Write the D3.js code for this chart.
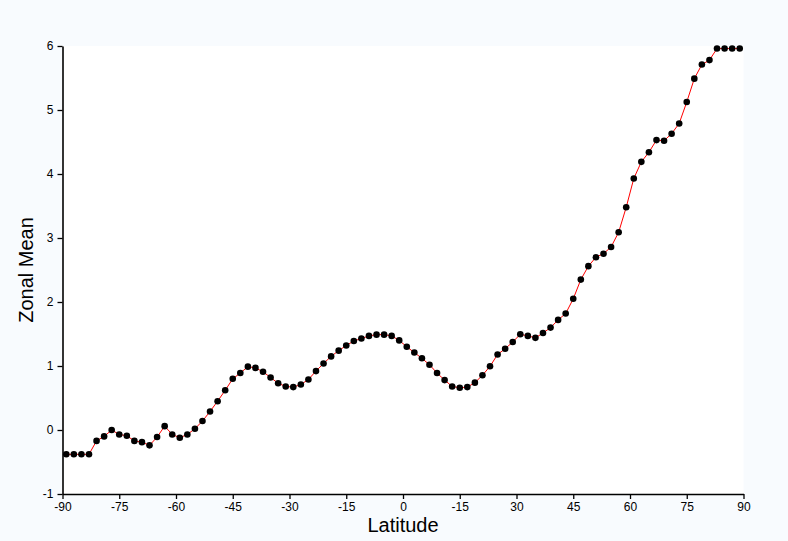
<!DOCTYPE html>
<html>
<head>
<meta charset="utf-8">
<script src="https://cdn.jsdelivr.net/npm/d3@7"></script>
<style>
  html, body { margin: 0; padding: 0; background: #F8FBFE; }
  svg { display: block; }
  text { font-family: Arial, "Liberation Sans", sans-serif; }
</style>
</head>
<body>
<svg id="chart" width="788" height="541"></svg>
<script>
const latitudes = [
  -89,-87,-85,-83,-81,-79,-77,-75,-73,-71,-69,-67,-65,-63,-61,-59,-57,-55,-53,-51,
  -49,-47,-45,-43,-41,-39,-37,-35,-33,-31,-29,-27,-25,-23,-21,-19,-17,-15,-13,-11,
  -9,-7,-5,-3,-1,1,3,5,7,9,11,13,15,17,19,21,23,25,27,29,
  31,33,35,37,39,41,43,45,47,49,51,53,55,57,59,61,63,65,67,69,
  71,73,75,77,79,81,83,85,87,89
];
const zonalMean = [
  -0.38,-0.38,-0.38,-0.38,-0.17,-0.10,0.00,-0.07,-0.09,-0.17,-0.19,-0.24,-0.11,0.06,-0.07,-0.12,-0.07,0.02,0.14,0.29,
  0.45,0.62,0.80,0.89,0.99,0.97,0.91,0.82,0.73,0.68,0.67,0.71,0.79,0.92,1.04,1.15,1.24,1.32,1.39,1.43,
  1.47,1.49,1.49,1.47,1.40,1.30,1.21,1.12,1.02,0.89,0.78,0.68,0.66,0.67,0.74,0.855,0.995,1.18,1.27,1.375,
  1.495,1.47,1.44,1.515,1.60,1.72,1.82,2.05,2.35,2.56,2.70,2.755,2.86,3.09,3.48,3.93,4.19,4.34,4.53,4.52,
  4.63,4.79,5.125,5.49,5.71,5.78,5.96,5.96,5.96,5.96
];
const xTickValues = [-90,-75,-60,-45,-30,-15,0,15,30,45,60,75,90];
const xTickLabels = ["-90","-75","-60","-45","-30","-15","0","-15","30","45","60","75","90"];
const yTickValues = [-1,0,1,2,3,4,5,6];
const yTickLabels = ["-1","0","1","2","3","4","5","6"];
const xTitle = "Latitude";
const yTitle = "Zonal Mean";

const data = latitudes.map((d, i) => ({lat: d, v: zonalMean[i]}));

const svg = d3.select("#chart");
const pLeft = 62.5, pRight = 743.5, pTop = 46, pBottom = 494;

const x = d3.scaleLinear().domain([-90, 90]).range([pLeft, pRight]);
const y = d3.scaleLinear().domain([-1, 6]).range([pBottom, pTop]);

svg.append("rect")
  .attr("x", pLeft).attr("y", pTop)
  .attr("width", pRight - pLeft).attr("height", pBottom - pTop)
  .attr("fill", "#ffffff");

const xAxis = svg.append("g")
  .attr("transform", `translate(0,${pBottom})`)
  .call(d3.axisBottom(x).tickValues(xTickValues)
    .tickFormat((d, i) => xTickLabels[i]).tickSize(5).tickSizeOuter(0).tickPadding(3));
const yAxis = svg.append("g")
  .attr("transform", `translate(${pLeft},0)`)
  .call(d3.axisLeft(y).tickValues(yTickValues).tickFormat((d, i) => yTickLabels[i])
    .tickSize(5).tickSizeOuter(0).tickPadding(4));

[xAxis, yAxis].forEach(g => {
  g.select(".domain").attr("stroke", "#000").attr("stroke-width", 1.6);
  g.selectAll(".tick line").attr("stroke", "#000").attr("stroke-width", 1.3);
  g.selectAll(".tick text").attr("fill", "#000").style("font-size", "12px")
    .style("font-family", "Arial, 'Liberation Sans', sans-serif");
});

const line = d3.line().x(d => x(d.lat)).y(d => y(d.v));
svg.append("path").datum(data)
  .attr("d", line).attr("fill", "none")
  .attr("stroke", "#ff0000").attr("stroke-width", 1);

svg.append("g").selectAll("circle").data(data).join("circle")
  .attr("cx", d => x(d.lat)).attr("cy", d => y(d.v))
  .attr("r", 3.3).attr("fill", "#000");

svg.append("text")
  .attr("x", (pLeft + pRight) / 2).attr("y", 532)
  .attr("text-anchor", "middle").style("font-size", "20px").attr("fill", "#000")
  .text(xTitle);

svg.append("text")
  .attr("transform", `translate(33,${(pTop + pBottom) / 2}) rotate(-90)`)
  .attr("text-anchor", "middle").style("font-size", "20px").attr("fill", "#000")
  .text(yTitle);
</script>
</body>
</html>
